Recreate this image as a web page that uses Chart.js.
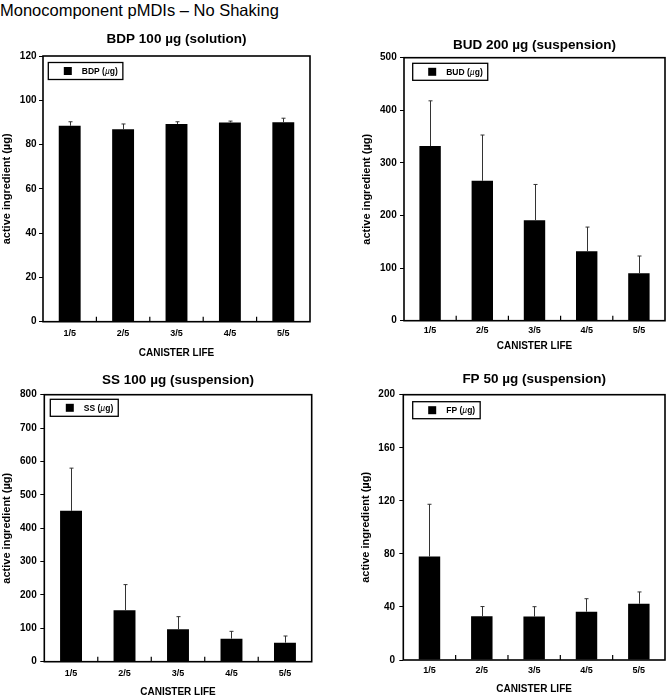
<!DOCTYPE html>
<html><head><meta charset="utf-8">
<script src="https://cdn.jsdelivr.net/npm/chart.js@4.4.1/dist/chart.umd.min.js"></script>
<style>
html,body{margin:0;padding:0;background:#fff;overflow:hidden;width:669px;height:698px;}
#main{position:absolute;left:0;top:0;font:16.5px 'Liberation Sans',Arial,sans-serif;line-height:20px;color:#000;white-space:nowrap;}
canvas{position:absolute;}
</style></head><body>
<div id="main">Monocomponent pMDIs – No Shaking</div>
<canvas id="c1"></canvas>
<canvas id="c2"></canvas>
<canvas id="c3"></canvas>
<canvas id="c4"></canvas>
<script>
// ---- data ----
const categories = ['1/5', '2/5', '3/5', '4/5', '5/5'];

const bdpValues = [88.5, 86.9, 89.3, 90.0, 90.1];
const bdpErrors = [1.8, 2.4, 1.0, 0.6, 1.8];
const bdpTicks = [0, 20, 40, 60, 80, 100, 120];

const budValues = [332, 266, 191, 132, 90];
const budErrors = [86, 87, 68, 46, 33];
const budTicks = [0, 100, 200, 300, 400, 500];

const ssValues = [452, 154, 97, 69, 57];
const ssErrors = [128, 77, 38, 22, 20];
const ssTicks = [0, 100, 200, 300, 400, 500, 600, 700, 800];

const fpValues = [78, 33, 32.7, 36.4, 42.4];
const fpErrors = [39.4, 7.3, 7.5, 9.8, 8.9];
const fpTicks = [0, 40, 80, 120, 160, 200];

const xAxisTitle = 'CANISTER LIFE';
const yAxisTitle = 'active ingredient (µg)';

// ---- layout (positions / styles only) ----
const FONT = "'Liberation Sans', Arial, sans-serif";
Chart.defaults.font.family = FONT;
Chart.defaults.color = '#000';

const panels = [
  {id:'c1', title:'BDP 100 µg (solution)', label:'BDP (µg)', values:bdpValues, errors:bdpErrors, ticks:bdpTicks,
   box:{left:0, top:25, width:335, height:340}, yW:43, xH:43.3, padR:25, titlePad:{top:8, bottom:9.5},
   yTitlePad:0.1, yTickPad:2.5, xTickPad:6.2, xTitlePad:5.7, leg:{x:5.3, y:6.5}},
  {id:'c2', title:'BUD 200 µg (suspension)', label:'BUD (µg)', values:budValues, errors:budErrors, ticks:budTicks,
   box:{left:335, top:25, width:334, height:340}, yW:69, xH:44.3, padR:4, titlePad:{top:14, bottom:5.2},
   yTitlePad:25.1, yTickPad:3.3, xTickPad:4.6, xTitlePad:12.3, leg:{x:8.7, y:5.6}},
  {id:'c3', title:'SS 100 µg (suspension)', label:'SS (µg)', values:ssValues, errors:ssErrors, ticks:ssTicks,
   box:{left:0, top:360, width:335, height:338}, yW:44.3, xH:36.3, padR:23.3, titlePad:{top:14, bottom:7.2},
   yTitlePad:0.1, yTickPad:3.6, xTickPad:6.2, xTitlePad:0, leg:{x:6, y:4.6}},
  {id:'c4', title:'FP 50 µg (suspension)', label:'FP (µg)', values:fpValues, errors:fpErrors, ticks:fpTicks,
   box:{left:335, top:360, width:334, height:338}, yW:68.3, xH:38, padR:4, titlePad:{top:12.7, bottom:8.5},
   yTitlePad:24.4, yTickPad:4.3, xTickPad:5.3, xTitlePad:2.7, leg:{x:9.4, y:7}}
];

const decorPlugin = {
  id: 'decor',
  afterDatasetsDraw(chart, args, opts) {
    const ctx = chart.ctx;
    const ca = chart.chartArea;
    const xs = chart.scales.x, ys = chart.scales.y;
    const ds = chart.data.datasets[0];
    const meta = chart.getDatasetMeta(0);
    ctx.save();
    // error bars (upper only)
    ctx.strokeStyle = '#333';
    ctx.lineWidth = 1;
    meta.data.forEach((bar, i) => {
      const v = ds.data[i], e = opts.errors[i];
      const yTop = ys.getPixelForValue(v + e);
      const x = Math.round(bar.x) + 0.5;
      ctx.beginPath();
      ctx.moveTo(x, bar.y);
      ctx.lineTo(x, yTop);
      ctx.moveTo(x - 2, yTop);
      ctx.lineTo(x + 2, yTop);
      ctx.stroke();
    });
    // frame
    ctx.strokeStyle = '#000';
    ctx.lineWidth = 1.6;
    ctx.strokeRect(ca.left, ca.top, ca.right - ca.left, ca.bottom - ca.top);
    // inner category separators on x axis
    ctx.lineWidth = 1.2;
    const n = chart.data.labels.length;
    for (let i = 0; i < n - 1; i++) {
      const x = (xs.getPixelForValue(i) + xs.getPixelForValue(i + 1)) / 2;
      ctx.beginPath();
      ctx.moveTo(x, ca.bottom);
      ctx.lineTo(x, ca.bottom - 5);
      ctx.stroke();
    }
    // legend box
    const lx = ca.left + opts.leg.x, ly = ca.top + opts.leg.y;
    const label = ds.label;
    const parts = label.split('µ');
    const bold = "bold 8.5px " + FONT, ital = "italic 8.5px " + FONT;
    ctx.font = bold;
    const w0 = ctx.measureText(parts[0]).width;
    ctx.font = ital;
    const wm = parts.length > 1 ? ctx.measureText('µ').width : 0;
    ctx.font = bold;
    const w1 = parts.length > 1 ? ctx.measureText(parts[1]).width : 0;
    const sqX = lx + 15.5, txtX = sqX + 8 + 10;
    const boxW = txtX + w0 + wm + w1 + 5 - lx, boxH = 17;
    ctx.fillStyle = '#fff';
    ctx.fillRect(lx, ly, boxW, boxH);
    ctx.lineWidth = 1.3;
    ctx.strokeStyle = '#000';
    ctx.strokeRect(lx, ly, boxW, boxH);
    ctx.fillStyle = '#000';
    ctx.fillRect(sqX, ly + boxH / 2 - 4, 8, 8);
    ctx.textBaseline = 'middle';
    ctx.textAlign = 'left';
    let tx = txtX;
    const ty = ly + boxH / 2 + 0.5;
    ctx.font = bold; ctx.fillText(parts[0], tx, ty); tx += w0;
    if (parts.length > 1) {
      ctx.font = ital; ctx.fillText('µ', tx, ty); tx += wm;
      ctx.font = bold; ctx.fillText(parts[1], tx, ty);
    }
    ctx.restore();
  }
};

panels.forEach(p => {
  const cv = document.getElementById(p.id);
  cv.style.left = p.box.left + 'px';
  cv.style.top = p.box.top + 'px';
  cv.style.width = p.box.width + 'px';
  cv.style.height = p.box.height + 'px';
  cv.width = p.box.width;
  cv.height = p.box.height;
  new Chart(cv, {
    type: 'bar',
    data: {
      labels: categories,
      datasets: [{
        label: p.label,
        data: p.values,
        backgroundColor: '#000',
        borderWidth: 0,
        categoryPercentage: 1,
        barPercentage: 0.41
      }]
    },
    plugins: [decorPlugin],
    options: {
      responsive: false,
      animation: false,
      devicePixelRatio: 1,
      layout: { padding: { left: 0, top: 0, right: p.padR, bottom: 0 } },
      plugins: {
        legend: { display: false },
        tooltip: { enabled: false },
        title: {
          display: true,
          text: p.title,
          fullSize: false,
          color: '#000',
          font: { size: 13.5, weight: 'bold', family: FONT, lineHeight: 1 },
          padding: p.titlePad
        },
        decor: { errors: p.errors, leg: p.leg }
      },
      scales: {
        x: {
          grid: { display: false, drawTicks: false, tickLength: 0 },
          border: { display: false },
          ticks: { color: '#000', font: { size: 9, weight: 'bold' }, padding: p.xTickPad, maxRotation: 0 },
          title: { display: true, text: xAxisTitle, color: '#000',
                   font: { size: 10, weight: 'bold', lineHeight: 1.2 }, padding: { top: 0, bottom: p.xTitlePad } },
          afterFit(s) { s.height = p.xH; }
        },
        y: {
          min: p.ticks[0],
          max: p.ticks[p.ticks.length - 1],
          afterBuildTicks(s) { s.ticks = p.ticks.map(v => ({ value: v })); },
          grid: { display: true, drawOnChartArea: false, drawTicks: true, tickLength: 4, color: '#000', lineWidth: 1 },
          border: { display: false },
          ticks: { color: '#000', font: { size: 10, weight: 'bold' }, padding: p.yTickPad },
          title: { display: true, text: yAxisTitle, color: '#000',
                   font: { size: 11, weight: 'bold', lineHeight: 1.2 }, padding: { top: p.yTitlePad, bottom: 0 } },
          afterFit(s) { s.width = p.yW; }
        }
      }
    }
  });
});
</script>
</body></html>
